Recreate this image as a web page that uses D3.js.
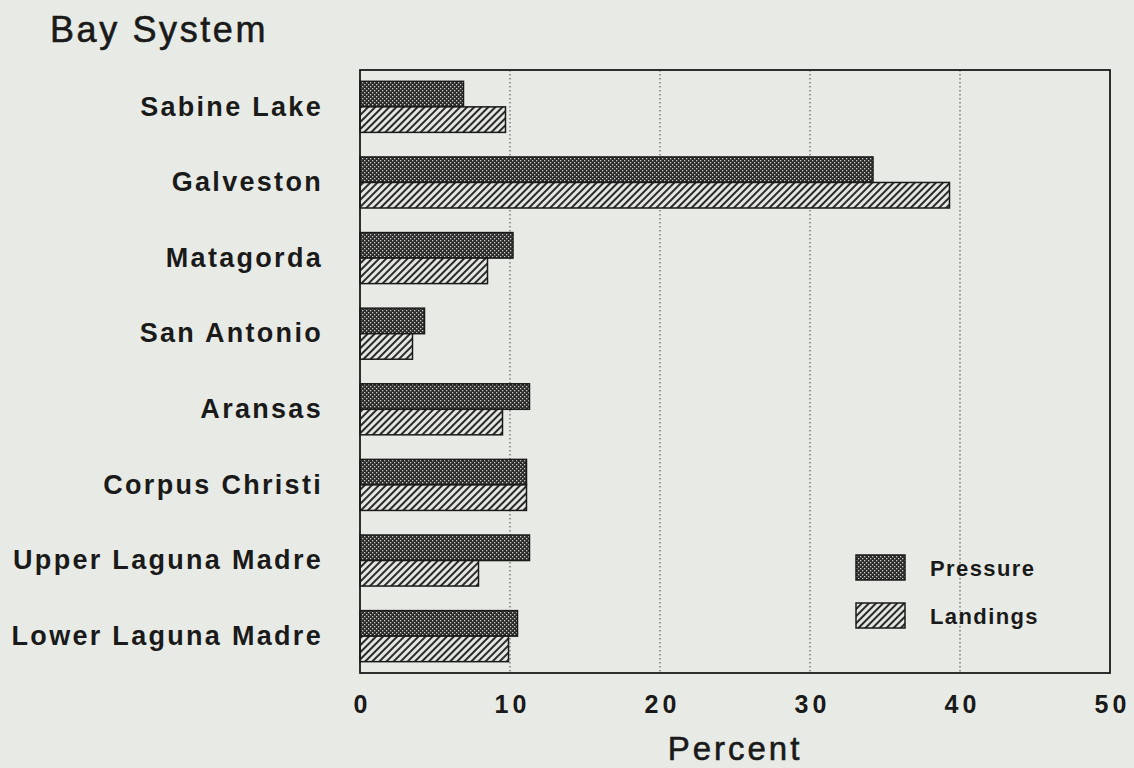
<!DOCTYPE html>
<html>
<head>
<meta charset="utf-8">
<script src="https://cdn.jsdelivr.net/npm/d3@7"></script>
<style>
  html, body { margin: 0; padding: 0; background: #e8ebe5; }
  svg { display: block; }
  text { font-family: "Liberation Sans", Arial, Helvetica, sans-serif; fill: #1a1a1a; }
</style>
</head>
<body>
<svg id="chart" width="1134" height="768"></svg>
<script>
const categories = ["Sabine Lake", "Galveston", "Matagorda", "San Antonio", "Aransas", "Corpus Christi", "Upper Laguna Madre", "Lower Laguna Madre"];
const pressure = [6.9, 34.2, 10.2, 4.3, 11.3, 11.1, 11.3, 10.5];
const landings = [9.7, 39.3, 8.5, 3.5, 9.5, 11.1, 7.9, 9.9];
const seriesNames = ["Pressure", "Landings"];
const xTicks = [0, 10, 20, 30, 40, 50];

const svg = d3.select("#chart");
const W = 1134, H = 768;
const m = { left: 360, right: 1110, top: 70, bottom: 673 };

svg.append("rect").attr("width", W).attr("height", H).attr("fill", "#e8ebe5");

const defs = svg.append("defs");
// dark dotted screen pattern
const pd = defs.append("pattern").attr("id", "pDots").attr("patternUnits", "userSpaceOnUse")
  .attr("width", 4).attr("height", 4);
pd.append("rect").attr("width", 4).attr("height", 4).attr("fill", "#2b2b2b");
pd.append("rect").attr("x", 0).attr("y", 0).attr("width", 1.3).attr("height", 1.3).attr("fill", "#c9ccc6");
pd.append("rect").attr("x", 2).attr("y", 2).attr("width", 1.3).attr("height", 1.3).attr("fill", "#c9ccc6");
// diagonal hatch pattern
const ph = defs.append("pattern").attr("id", "pHatch").attr("patternUnits", "userSpaceOnUse")
  .attr("width", 5).attr("height", 5).attr("patternTransform", "rotate(45)");
ph.append("rect").attr("width", 5).attr("height", 5).attr("fill", "#e4e7e1");
ph.append("rect").attr("x", 0).attr("y", 0).attr("width", 2).attr("height", 5).attr("fill", "#2a2a2a");

const fills = ["url(#pDots)", "url(#pHatch)"];

const x = d3.scaleLinear().domain([0, 50]).range([m.left, m.right]);
const y = d3.scaleBand().domain(categories).range([m.top, m.bottom]).paddingInner(0.325).paddingOuter(0.15);
const ySub = d3.scaleBand().domain(seriesNames).range([0, y.bandwidth()]);

// gridlines
svg.append("g").selectAll("line").data(xTicks.filter(t => t > 0 && t < 50)).join("line")
  .attr("x1", d => x(d)).attr("x2", d => x(d))
  .attr("y1", m.top).attr("y2", m.bottom)
  .attr("stroke", "#444").attr("stroke-width", 1).attr("stroke-dasharray", "1.5,2.5");

// bars
const rows = categories.map((c, i) => ({ c, vals: [pressure[i], landings[i]] }));
const g = svg.append("g");
rows.forEach(r => {
  r.vals.forEach((v, j) => {
    g.append("rect")
      .attr("x", x(0))
      .attr("y", y(r.c) + ySub(seriesNames[j]))
      .attr("width", x(v) - x(0))
      .attr("height", ySub.bandwidth())
      .attr("fill", fills[j])
      .attr("stroke", "#1a1a1a").attr("stroke-width", 1.5);
  });
});

// frame
svg.append("rect").attr("x", m.left).attr("y", m.top)
  .attr("width", m.right - m.left).attr("height", m.bottom - m.top)
  .attr("fill", "none").attr("stroke", "#1a1a1a").attr("stroke-width", 1.8);

// x axis labels
const xAxis = d3.axisBottom(x).tickValues(xTicks).tickSize(0).tickPadding(0).tickFormat(d3.format("d"));
const ax = svg.append("g").attr("transform", `translate(0, 695)`).call(xAxis);
ax.select(".domain").remove();
ax.selectAll("text").attr("font-size", 25).attr("font-weight", "bold").attr("letter-spacing", 4)
  .attr("fill", "#1a1a1a").attr("dx", 2)
  .style("font-family", '"Liberation Sans", Arial, sans-serif');

// y axis labels
const yAxis = d3.axisLeft(y).tickSize(0).tickPadding(37);
const ay = svg.append("g").attr("transform", `translate(${m.left}, 0)`).call(yAxis);
ay.select(".domain").remove();
ay.selectAll("text").attr("font-size", 27).attr("font-weight", "bold").attr("letter-spacing", 2.3)
  .attr("fill", "#1a1a1a")
  .style("font-family", '"Liberation Sans", Arial, sans-serif');

// title
svg.append("text").attr("x", 50).attr("y", 42).attr("font-size", 36).attr("letter-spacing", 2.6)
  .attr("stroke", "#1a1a1a").attr("stroke-width", 0.6).text("Bay System");

// x axis title
svg.append("text").attr("x", (m.left + m.right) / 2).attr("y", 760).attr("text-anchor", "middle")
  .attr("font-size", 33).attr("letter-spacing", 3)
  .attr("stroke", "#1a1a1a").attr("stroke-width", 0.6).text("Percent");

// legend
const leg = svg.append("g");
seriesNames.forEach((s, j) => {
  const yy = 555 + j * 48;
  leg.append("rect").attr("x", 856).attr("y", yy).attr("width", 49).attr("height", 25)
    .attr("fill", fills[j]).attr("stroke", "#1a1a1a").attr("stroke-width", 1.5);
  leg.append("text").attr("x", 930).attr("y", yy + 21).attr("font-size", 22).attr("font-weight", "bold")
    .attr("letter-spacing", 1.4).text(s);
});
</script>
</body>
</html>
